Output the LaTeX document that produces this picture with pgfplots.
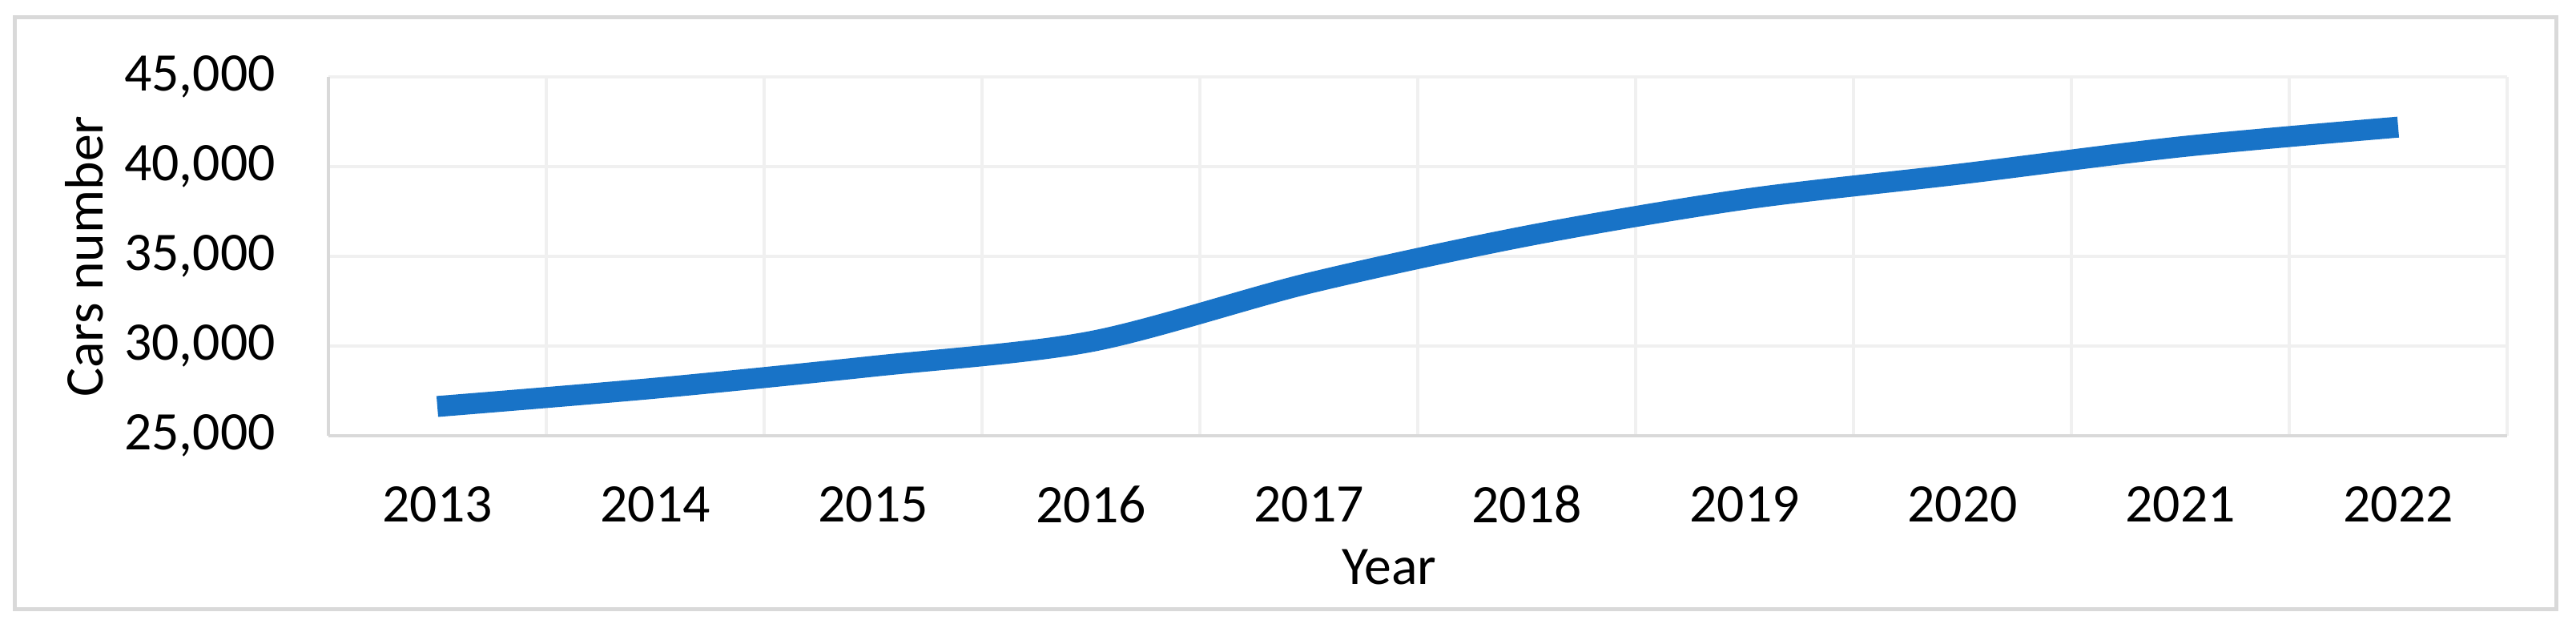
\documentclass[border=0pt]{standalone}
\usepackage{pgfplots}
\pgfplotsset{compat=1.18}
\usepackage{fontspec}
\setmainfont{Carlito}
\definecolor{lineblue}{RGB}{24,115,199}
\definecolor{gridc}{RGB}{240,240,240}
\definecolor{axc}{RGB}{217,217,217}
\begin{document}
\begin{tikzpicture}
\useasboundingbox (0,0) rectangle (578.88pt,141.12pt);
\fill[white] (0,0) rectangle (578.88pt,141.12pt);
\draw[axc, line width=0.9pt] (3.24pt,4.14pt) rectangle (574.4pt,137.16pt);
\begin{axis}[
  at={(73.8pt,43.2pt)}, anchor=south west,
  width=489.6pt, height=80.64pt, scale only axis,
  scaled ticks=false,
  xmin=-0.5, xmax=9.5, ymin=25000, ymax=45000,
  xtick={0,1,2,3,4,5,6,7,8,9},
  xticklabels={2013,2014,2015,2016,2017,2018,2019,2020,2021,2022},
  minor xtick={-0.5,0.5,1.5,2.5,3.5,4.5,5.5,6.5,7.5,8.5,9.5},
  ytick={25000,30000,35000,40000,45000},
  yticklabels={{25,000},{30,000},{35,000},{40,000},{45,000}},
  major tick length=0pt, minor tick length=0pt,
  xmajorgrids=false, xminorgrids=true, ymajorgrids=true,
  grid style={draw=gridc, line width=0.7pt},
  minor grid style={draw=gridc, line width=0.7pt},
  axis x line*=bottom, axis y line*=left,
  axis line style={-, draw=axc, line width=0.8pt},
  every tick label/.append style={font=\fontsize{12.2}{14}\selectfont, text=black},
  xticklabel style={anchor=center, yshift=-15.5pt, inner sep=0pt},
  yticklabel style={anchor=east, xshift=-11.7pt, inner sep=0pt},
  label style={font=\fontsize{12.2}{14}\selectfont, text=black},
  xlabel={Year},
  xlabel style={at={(axis description cs:0.4868,-0.366)}, anchor=center, inner sep=0pt},
  ylabel={Cars number},
  ylabel style={at={(axis description cs:-0.1121,0.5)}, anchor=center, inner sep=0pt},
]
\addplot[lineblue, line width=4.7pt, smooth, tension=0.5, line cap=butt] coordinates {
  (0,26630) (1,27650) (2,28870) (3,30250) (4,33500)
  (5,36130) (6,38180) (7,39600) (8,41100) (9,42200)
};
\end{axis}
\end{tikzpicture}
\end{document}
